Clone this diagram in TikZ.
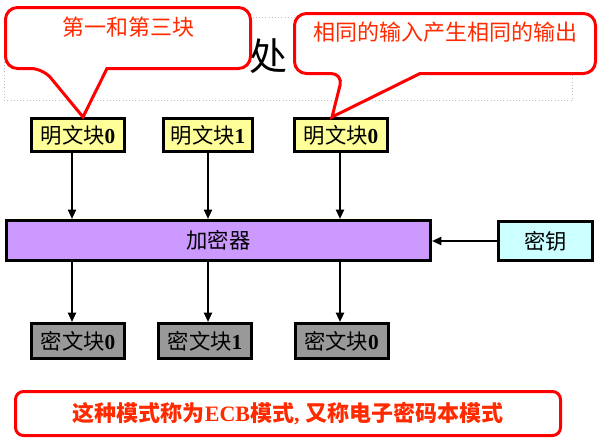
\documentclass[tikz,border=0pt]{standalone}
\usepackage{fontspec}
\setmainfont{Liberation Serif}
\newfontfamily\cjk{Noto Sans CJK SC}
\usetikzlibrary{arrows.meta}

\definecolor{plainyellow}{HTML}{FFFF99}
\definecolor{ciphergray}{HTML}{999999}
\definecolor{encpurple}{HTML}{CC99FF}
\definecolor{keycyan}{HTML}{CCFFFF}
\definecolor{notered}{HTML}{FF2A00}

\begin{document}
\begin{tikzpicture}[
    x=0.75pt, y=-0.75pt,
    plainbox/.style={draw,line width=2.25pt,fill=plainyellow,minimum width=69.75pt,minimum height=24.75pt,inner sep=0pt,font=\fontsize{16}{16}\selectfont},
    cipherbox/.style={plainbox,fill=ciphergray,minimum height=26.25pt},
    callout/.style={draw=red,line width=2.25pt,fill=white,rounded corners=9pt},
    note/.style={text=notered,font=\cjk\fontsize{16.5}{16.5}\selectfont},
    arr/.style={line width=1.5pt,-{Triangle[length=7pt,width=6pt]}}
]
\useasboundingbox (0,0) rectangle (605,443);

% Tytul w tle (prawie caly zasloniety)
\draw[dotted,gray!50] (4,17) rectangle (572,100);
\node[anchor=base west,inner sep=0pt,font=\cjk\fontsize{28.5}{28.5}\selectfont] (title) at (249,70) {处};

% Bloki jawne (gora)
\node[plainbox] (p0) at (78,135) {{\cjk 明文块}\textbf{0}};
\node[plainbox,minimum width=66.75pt] (p1) at (208,135) {{\cjk 明文块}\textbf{1}};
\node[plainbox] (p2) at (341,135) {{\cjk 明文块}\textbf{0}};

% Szyfrator i klucz
\node[plainbox,fill=encpurple,minimum width=318pt,minimum height=30pt] (enc) at (218.5,240.5) {\cjk 加密器};
\node[plainbox,fill=keycyan,minimum width=70.5pt,minimum height=29.25pt] (key) at (545.5,241) {\cjk 密钥};

% Bloki szyfru (dol)
\node[cipherbox] (c0) at (78,341) {{\cjk 密文块}\textbf{0}};
\node[cipherbox] (c1) at (205,341) {{\cjk 密文块}\textbf{1}};
\node[cipherbox] (c2) at (341.5,341) {{\cjk 密文块}\textbf{0}};

% Kolumny strzalek
\coordinate (a0) at (72,0);
\coordinate (a1) at (208,0);
\coordinate (a2) at (340,0);

% Strzalki p -> enc -> c
\draw[arr] (p0.south -| a0) -- (enc.north -| a0);
\draw[arr] (p1.south -| a1) -- (enc.north -| a1);
\draw[arr] (p2.south -| a2) -- (enc.north -| a2);

\draw[arr] (enc.south -| a0) -- (c0.north -| a0);
\draw[arr] (enc.south -| a1) -- (c1.north -| a1);
\draw[arr] (enc.south -| a2) -- (c2.north -| a2);

\draw[arr] (key.west) -- (enc.east |- key.west);

% Dymki
\draw[callout] (43,68.5) [sharp corners] -- ([xshift=3.75pt]p0.north) -- (107,68.5) [rounded corners=9pt] -- (250.5,68.5) -- (250.5,7.5) -- (5.5,7.5) -- (5.5,68.5) -- cycle;
\node[note] (note1) at (128,27) {第一和第三块};

\draw[callout] (343,73.5) [sharp corners] -- ([xshift=-6.75pt]p2.north) -- (420,73.5) [rounded corners=9pt] -- (595.5,73.5) -- (595.5,13.5) -- (294.5,13.5) -- (294.5,73.5) -- cycle;
\node[note] (note2) at (445,32) {相同的输入产生相同的输出};

% Podpis
\node[draw=red,line width=2.25pt,rounded corners=6pt,minimum width=408.75pt,minimum height=33pt,text=notered,font=\fontsize{16.5}{16.5}\selectfont\bfseries] (mode) at (288,413.5) {{\cjk\bfseries 这种模式称为}ECB{\cjk\bfseries 模式}, {\cjk\bfseries 又称电子密码本模式}};

\end{tikzpicture}
\end{document}
